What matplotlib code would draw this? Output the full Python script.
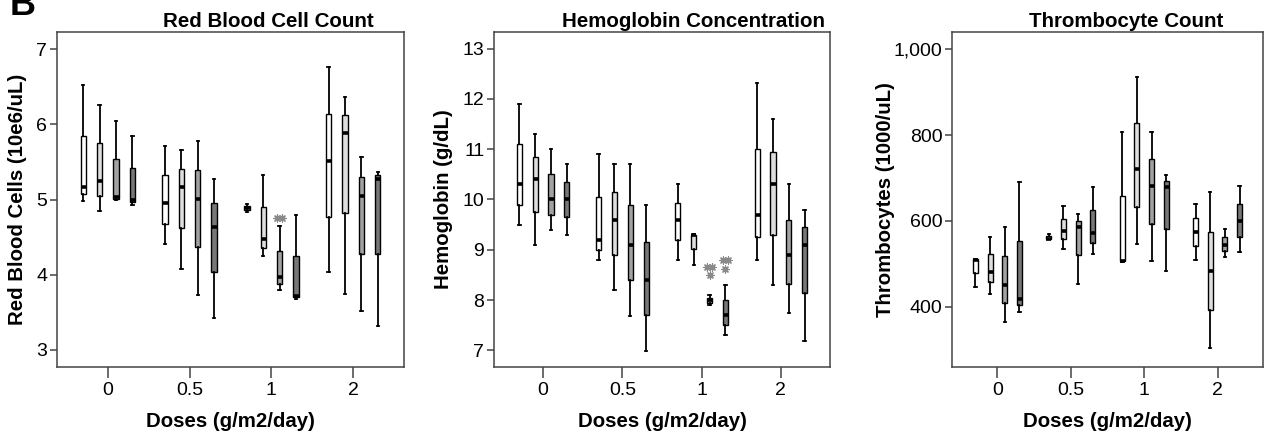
import matplotlib
matplotlib.use("Agg")
import matplotlib.pyplot as plt
from matplotlib.ticker import FuncFormatter

plt.rcParams['font.family'] = ['Liberation Sans', 'DejaVu Sans']

# Dose groups on the x axis, four sub-series per group
doses = ["0", "0.5", "1", "2"]

# Box statistics per panel: [group][series] -> low whisker, Q1, median, Q3, high whisker
rbc_low = [[4.98, 4.85, 5.00, 4.93], [4.41, 4.07, 3.73, 3.42], [4.83, 4.25, 3.80, 3.67], [4.03, 3.74, 3.52, 3.31]]
rbc_q1 = [[5.07, 5.05, 5.01, 4.97], [4.68, 4.62, 4.37, 4.03], [4.86, 4.36, 3.87, 3.70], [4.77, 4.82, 4.28, 4.28]]
rbc_med = [[5.16, 5.25, 5.03, 5.00], [4.96, 5.17, 5.01, 4.64], [4.89, 4.48, 3.97, 3.71], [5.51, 5.89, 5.05, 5.27]]
rbc_q3 = [[5.84, 5.75, 5.54, 5.42], [5.33, 5.41, 5.39, 4.96], [4.91, 4.90, 4.31, 4.25], [6.14, 6.12, 5.30, 5.32]]
rbc_high = [[6.52, 6.26, 6.05, 5.85], [5.71, 5.66, 5.78, 5.27], [4.94, 5.33, 4.65, 4.79], [6.77, 6.36, 5.57, 5.37]]
# extreme values: (group, series, value, count side by side)
rbc_extremes = [(2, 2, 4.75, 2)]

hb_low = [[9.50, 9.10, 9.40, 9.30], [8.80, 8.20, 7.69, 6.99], [8.80, 8.69, 7.90, 7.30], [8.80, 8.30, 7.74, 7.19]]
hb_q1 = [[9.90, 9.75, 9.70, 9.65], [9.00, 8.89, 8.40, 7.70], [9.20, 9.01, 7.95, 7.50], [9.25, 9.30, 8.32, 8.14]]
hb_med = [[10.30, 10.40, 10.00, 10.00], [9.20, 9.60, 9.10, 8.40], [9.60, 9.30, 8.00, 7.70], [9.70, 10.30, 8.90, 9.10]]
hb_q3 = [[11.10, 10.85, 10.50, 10.35], [10.05, 10.14, 9.90, 9.15], [9.94, 9.30, 8.05, 8.00], [11.00, 10.95, 9.60, 9.45]]
hb_high = [[11.90, 11.31, 11.00, 10.70], [10.91, 10.70, 10.70, 9.90], [10.30, 9.31, 8.10, 8.30], [12.32, 11.60, 10.30, 9.80]]
hb_extremes = [(2, 2, 8.66, 2), (2, 2, 8.50, 1), (2, 3, 8.79, 2), (2, 3, 8.61, 1)]

plt_low = [[447, 430, 365, 389], [557, 535, 453, 524], [505, 546, 506, 484], [508, 304, 516, 527]]
plt_q1 = [[478, 457, 409, 404], [557, 557, 520, 548], [506, 633, 593, 582], [542, 393, 529, 563]]
plt_med = [[510, 482, 451, 419], [559, 577, 587, 571], [507, 720, 682, 680], [575, 484, 544, 600]]
plt_q3 = [[512, 523, 519, 554], [566, 604, 600, 625], [657, 827, 745, 693], [606, 575, 562, 640]]
plt_high = [[512, 563, 587, 691], [570, 635, 616, 680], [808, 936, 808, 707], [639, 667, 582, 682]]
plt_extremes = []

offsets = [-0.3, -0.1, 0.1, 0.3]
fills = ['white', '#dedede', '#a2a2a2', '#777777']
frame_color = '#444444'


def draw_panel(ax, low, q1, med, q3, high, extremes, title, ylabel, ylim, yticks,
               title_x, ylabel_x, comma=False):
    stats, positions, colors = [], [], []
    for g in range(len(doses)):
        for s in range(4):
            stats.append(dict(whislo=low[g][s], q1=q1[g][s], med=med[g][s],
                              q3=q3[g][s], whishi=high[g][s], fliers=[]))
            positions.append(g + offsets[s])
            colors.append(fills[s])
    art = ax.bxp(stats, positions=positions, widths=0.065, capwidths=0.03,
                 patch_artist=True, showfliers=False, manage_ticks=False,
                 boxprops=dict(edgecolor='black', linewidth=1.0),
                 medianprops=dict(color='black', linewidth=2.6, solid_capstyle='butt'),
                 whiskerprops=dict(color='black', linewidth=1.3),
                 capprops=dict(color='black', linewidth=1.3))
    for patch, c in zip(art['boxes'], colors):
        patch.set_facecolor(c)

    for g, s, val, n in extremes:
        xs = [g + offsets[s] + (k - (n - 1) / 2) * 0.06 for k in range(n)]
        ax.scatter(xs, [val] * n, marker=(8, 2, 0), s=26, color='#8a8a8a',
                   linewidths=0.9, zorder=4)

    ax.set_xlim(-0.62, 3.62)
    ax.set_ylim(*ylim)
    ax.set_xticks(range(len(doses)))
    ax.set_xticklabels(doses)
    ax.set_yticks(yticks)
    if comma:
        ax.yaxis.set_major_formatter(FuncFormatter(lambda v, p: f"{v:,.0f}"))
    for sp in ax.spines.values():
        sp.set_color(frame_color)
        sp.set_linewidth(1.1)
    ax.tick_params(axis='x', length=8, width=1.1, color=frame_color, labelsize=14, pad=3)
    ax.tick_params(axis='y', length=5, width=1.1, color=frame_color, labelsize=14, pad=2)

    ax.set_xlabel('Doses (g/m2/day)', fontsize=14.7, fontweight='bold', va='top')
    ax.xaxis.set_label_coords(0.5, -0.135)
    ax.set_ylabel(ylabel, fontsize=14.7, fontweight='bold')
    ax.yaxis.set_label_coords(ylabel_x, 0.5)
    ax.text(title_x, 1.015, title, transform=ax.transAxes, ha='center',
            va='baseline', fontsize=14.8, fontweight='bold')


fig = plt.figure(figsize=(12.65, 4.36), dpi=100)
W, H = 1265, 436
ax1 = fig.add_axes([57 / W, (H - 367) / H, 347 / W, 335 / H])
ax2 = fig.add_axes([494 / W, (H - 367) / H, 336 / W, 335 / H])
ax3 = fig.add_axes([952 / W, (H - 367) / H, 311 / W, 335 / H])

draw_panel(ax1, rbc_low, rbc_q1, rbc_med, rbc_q3, rbc_high, rbc_extremes,
           'Red Blood Cell Count', 'Red Blood Cells (10e6/uL)',
           (2.77, 7.23), [3, 4, 5, 6, 7], 0.608, -0.086)
draw_panel(ax2, hb_low, hb_q1, hb_med, hb_q3, hb_high, hb_extremes,
           'Hemoglobin Concentration', 'Hemoglobin (g/dL)',
           (6.67, 13.33), [7, 8, 9, 10, 11, 12, 13], 0.595, -0.122)
draw_panel(ax3, plt_low, plt_q1, plt_med, plt_q3, plt_high, plt_extremes,
           'Thrombocyte Count', 'Thrombocytes (1000/uL)',
           (260, 1040), [400, 600, 800, 1000], 0.559, -0.183, comma=True)

# panel letter, partly cut at the top edge as in the source figure
fig.text(10 / W, 1 - 15 / H, 'B', fontsize=26, fontweight='bold',
         ha='left', va='baseline')

fig.savefig('out.png', dpi=100)
